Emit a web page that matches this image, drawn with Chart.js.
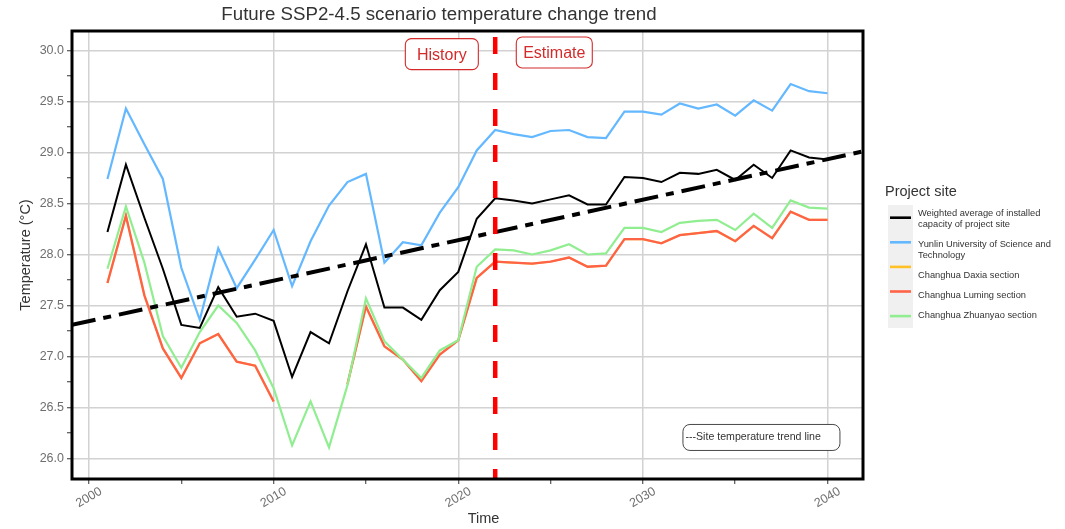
<!DOCTYPE html>
<html>
<head>
<meta charset="utf-8">
<title>Future SSP2-4.5 scenario temperature change trend</title>
<script src="https://cdn.jsdelivr.net/npm/chart.js@4.4.1/dist/chart.umd.min.js"></script>
<style>
  html, body { margin: 0; padding: 0; background: #ffffff; }
  #wrap { width: 1065px; height: 529px; position: relative; }
</style>
</head>
<body>
<div id="wrap"><canvas id="chart" width="1065" height="529"></canvas></div>
<script>
// ---- data ----
const years = [2001, 2002, 2003, 2004, 2005, 2006, 2007, 2008, 2009, 2010,
               2011, 2012, 2013, 2014, 2015, 2016, 2017, 2018, 2019, 2020,
               2021, 2022, 2023, 2024, 2025, 2026, 2027, 2028, 2029, 2030,
               2031, 2032, 2033, 2034, 2035, 2036, 2037, 2038, 2039, 2040];

const weighted = [28.22, 28.88, 28.36, 27.86, 27.31, 27.28, 27.68, 27.39, 27.42, 27.35,
                  26.80, 27.24, 27.13, 27.64, 28.10, 27.48, 27.48, 27.36, 27.65, 27.83,
                  28.35, 28.55, 28.53, 28.50, 28.54, 28.58, 28.49, 28.49, 28.76, 28.75,
                  28.71, 28.80, 28.79, 28.83, 28.73, 28.88, 28.75, 29.02, 28.95, 28.93];

const yunlin = [28.74, 29.43, 29.08, 28.74, 27.87, 27.36, 28.06, 27.67, 27.95, 28.24,
                27.69, 28.13, 28.48, 28.71, 28.79, 27.92, 28.12, 28.09, 28.41, 28.66,
                29.02, 29.22, 29.18, 29.15, 29.21, 29.22, 29.15, 29.14, 29.40, 29.40,
                29.37, 29.48, 29.43, 29.47, 29.36, 29.51, 29.41, 29.67, 29.60, 29.58];

const daxia = [27.72, 28.38, 27.60, 27.08, 26.79, 27.13, 27.22, 26.95, 26.91, 26.56,
               null, null, null, 26.73, 27.49, 27.10, 26.97, 26.76, 27.02, 27.16,
               27.77, 27.93, 27.92, 27.91, 27.93, 27.97, 27.88, 27.89, 28.15, 28.15,
               28.11, 28.19, 28.21, 28.23, 28.13, 28.28, 28.16, 28.42, 28.34, 28.34];

const luming = [27.72, 28.38, 27.60, 27.08, 26.79, 27.13, 27.22, 26.95, 26.91, 26.56,
                null, null, null, 26.73, 27.49, 27.10, 26.97, 26.76, 27.02, 27.16,
                27.77, 27.93, 27.92, 27.91, 27.93, 27.97, 27.88, 27.89, 28.15, 28.15,
                28.11, 28.19, 28.21, 28.23, 28.13, 28.28, 28.16, 28.42, 28.34, 28.34];

const zhuanyao = [27.86, 28.47, 27.92, 27.20, 26.89, 27.24, 27.50, 27.33, 27.06, 26.69,
                  26.13, 26.56, 26.11, 26.72, 27.57, 27.15, 26.97, 26.79, 27.06, 27.16,
                  27.88, 28.05, 28.04, 28.00, 28.04, 28.10, 28.00, 28.01, 28.26, 28.26,
                  28.22, 28.31, 28.33, 28.34, 28.24, 28.40, 28.26, 28.53, 28.46, 28.45];

// straight trend line across the whole time span
const trendYears = [1999.08, 2041.92];
const trendValues = [27.31, 29.01];

// year separating the historical record from the projection
const splitYear = 2022;

const seriesNames = [
  'Weighted average of installed capacity of project site',
  'Yunlin University of Science and Technology',
  'Changhua Daxia section',
  'Changhua Luming section',
  'Changhua Zhuanyao section'
];

const xTickLabels = [2000, 2010, 2020, 2030, 2040];
const yTickLabels = [26.0, 26.5, 27.0, 27.5, 28.0, 28.5, 29.0, 29.5, 30.0];

// ---- styling ----
const FONT = '"Liberation Sans", Arial, Helvetica, sans-serif';
const GRID = '#d2d2d2';
const seriesColors = ['#000000', '#63b8ff', '#ffc125', '#ff6347', '#90ee90'];
const seriesWidths = [2, 2.2, 2, 2.3, 2.2];

const toPoints = (xs, ys) => xs.map((x, i) => ({ x: x, y: ys[i] }));
const isMajor = (list, v) => list.some(t => Math.abs(t - v) < 1e-6);

const seriesValues = [weighted, yunlin, daxia, luming, zhuanyao];
// later series sit on top of earlier ones (lower order = drawn later)
const seriesOrder = [5, 4, 3, 2, 1];

const datasets = seriesValues.map((vals, i) => ({
  label: seriesNames[i],
  data: toPoints(years, vals),
  borderColor: seriesColors[i],
  backgroundColor: seriesColors[i],
  borderWidth: seriesWidths[i],
  pointRadius: 0,
  tension: 0,
  spanGaps: false,
  order: seriesOrder[i]
}));

datasets.push({
  label: 'trend',
  data: toPoints(trendYears, trendValues),
  borderColor: '#000000',
  borderWidth: 4,
  borderDash: [24, 8, 8, 8],
  pointRadius: 0,
  tension: 0,
  order: 0,
  isTrend: true
});

function roundRect(ctx, x, y, w, h, r) {
  ctx.beginPath();
  ctx.moveTo(x + r, y);
  ctx.lineTo(x + w - r, y);
  ctx.arcTo(x + w, y, x + w, y + r, r);
  ctx.lineTo(x + w, y + h - r);
  ctx.arcTo(x + w, y + h, x + w - r, y + h, r);
  ctx.lineTo(x + r, y + h);
  ctx.arcTo(x, y + h, x, y + h - r, r);
  ctx.lineTo(x, y + r);
  ctx.arcTo(x, y, x + r, y, r);
  ctx.closePath();
}

function wrapText(ctx, text, maxWidth) {
  const words = text.split(' ');
  const lines = [];
  let line = '';
  words.forEach(w => {
    const test = line ? line + ' ' + w : w;
    if (ctx.measureText(test).width > maxWidth && line) {
      lines.push(line);
      line = w;
    } else {
      line = test;
    }
  });
  if (line) lines.push(line);
  return lines;
}

const decor = {
  id: 'decor',
  beforeDraw(chart) {
    const ctx = chart.ctx;
    ctx.save();
    ctx.fillStyle = '#ffffff';
    ctx.fillRect(0, 0, chart.width, chart.height);
    ctx.restore();
  },
  afterDatasetsDraw(chart) {
    const ctx = chart.ctx;
    const a = chart.chartArea;
    const xs = chart.scales.x;

    // dashed divider between history and estimate
    const vx = xs.getPixelForValue(splitYear);
    ctx.save();
    ctx.strokeStyle = '#ff0000';
    ctx.lineWidth = 4.5;
    ctx.setLineDash([17, 19]);
    ctx.lineDashOffset = 30;
    ctx.beginPath();
    ctx.moveTo(vx, a.top);
    ctx.lineTo(vx, a.bottom);
    ctx.stroke();
    ctx.restore();

    // panel frame
    ctx.save();
    ctx.strokeStyle = '#000000';
    ctx.lineWidth = 3;
    ctx.strokeRect(a.left, a.top, a.right - a.left, a.bottom - a.top);
    ctx.restore();
  },
  afterDraw(chart) {
    const ctx = chart.ctx;
    const xs = chart.scales.x, ys = chart.scales.y;

    // title
    ctx.save();
    ctx.fillStyle = '#333333';
    ctx.font = '18.7px ' + FONT;
    ctx.textAlign = 'center';
    ctx.textBaseline = 'middle';
    ctx.fillText('Future SSP2-4.5 scenario temperature change trend', 439, 15);

    // x axis title
    ctx.font = '14.5px ' + FONT;
    ctx.fillText('Time', 483.5, 519);
    ctx.restore();

    // History / Estimate labels
    const tags = [
      { text: 'History', x: 2019.11, y: 29.963, w: 73, h: 31 },
      { text: 'Estimate', x: 2025.2, y: 29.98, w: 76, h: 31 }
    ];
    tags.forEach(t => {
      const cx = xs.getPixelForValue(t.x), cy = ys.getPixelForValue(t.y);
      ctx.save();
      roundRect(ctx, cx - t.w / 2, cy - t.h / 2, t.w, t.h, 6);
      ctx.fillStyle = '#ffffff';
      ctx.fill();
      ctx.strokeStyle = '#d42a2a';
      ctx.lineWidth = 1.1;
      ctx.stroke();
      ctx.fillStyle = '#d42a2a';
      ctx.font = '16px ' + FONT;
      ctx.textAlign = 'center';
      ctx.textBaseline = 'middle';
      ctx.fillText(t.text, cx, cy + 1);
      ctx.restore();
    });

    // trend line note
    {
      const cx = xs.getPixelForValue(2036.42), cy = ys.getPixelForValue(26.207);
      const w = 157, h = 26;
      ctx.save();
      roundRect(ctx, cx - w / 2, cy - h / 2, w, h, 7);
      ctx.fillStyle = '#ffffff';
      ctx.fill();
      ctx.strokeStyle = '#333333';
      ctx.lineWidth = 0.9;
      ctx.stroke();
      ctx.fillStyle = '#333333';
      ctx.font = '10.6px ' + FONT;
      ctx.textAlign = 'left';
      ctx.textBaseline = 'middle';
      ctx.fillText('---Site temperature trend line', cx - w / 2 + 2.5, cy);
      ctx.restore();
    }

    // legend
    ctx.save();
    ctx.fillStyle = '#333333';
    ctx.font = '14.5px ' + FONT;
    ctx.textAlign = 'left';
    ctx.textBaseline = 'middle';
    ctx.fillText('Project site', 885, 192);

    ctx.fillStyle = '#f0f0f0';
    ctx.fillRect(888, 205, 25, 123);

    ctx.font = '9.3px ' + FONT;
    const lineH = 11.3, blockGap = 8.5;
    let textY = 213.3;
    chart.data.datasets.forEach((ds, i) => {
      if (ds.isTrend) return;
      const keyY = 217.7 + i * 24.6;
      ctx.strokeStyle = ds.borderColor;
      ctx.lineWidth = 2.6;
      ctx.setLineDash([]);
      ctx.beginPath();
      ctx.moveTo(890, keyY);
      ctx.lineTo(911, keyY);
      ctx.stroke();

      const lines = wrapText(ctx, ds.label, 140);
      ctx.fillStyle = '#333333';
      lines.forEach((ln, k) => {
        ctx.fillText(ln, 918, textY + k * lineH);
      });
      textY += (lines.length - 1) * lineH + lineH + blockGap;
    });
    ctx.restore();
  }
};

const tickFont = { family: FONT, size: 12.5 };

new Chart(document.getElementById('chart'), {
  type: 'line',
  data: { datasets: datasets },
  options: {
    responsive: false,
    animation: false,
    devicePixelRatio: 1,
    layout: { padding: { top: 31, right: 202, bottom: 0, left: 0 } },
    plugins: {
      legend: { display: false },
      title: { display: false },
      tooltip: { enabled: false }
    },
    scales: {
      x: {
        type: 'linear',
        min: 1999.08,
        max: 2041.92,
        afterFit(scale) { scale.height = 50; },
        border: { display: false },
        grid: {
          color: ctx => isMajor(xTickLabels, ctx.tick.value) ? GRID : 'rgba(0,0,0,0)',
          lineWidth: 1.5,
          tickColor: '#333333',
          tickLength: 5,
          tickWidth: 1
        },
        ticks: {
          stepSize: 5,
          includeBounds: false,
          autoSkip: false,
          minRotation: 30,
          maxRotation: 30,
          labelOffset: 12,
          padding: 0,
          color: '#6e6e6e',
          font: tickFont,
          callback: v => isMajor(xTickLabels, v) ? String(Math.round(v)) : ''
        }
      },
      y: {
        type: 'linear',
        min: 25.8,
        max: 30.19,
        afterFit(scale) { scale.width = 72; },
        border: { display: false },
        title: {
          display: true,
          text: 'Temperature (°C)',
          color: '#333333',
          font: { family: FONT, size: 14.5 },
          padding: { top: 17, bottom: 0 }
        },
        grid: {
          color: ctx => isMajor(yTickLabels, ctx.tick.value) ? GRID : 'rgba(0,0,0,0)',
          lineWidth: 1.5,
          tickColor: '#333333',
          tickLength: 5,
          tickWidth: 1
        },
        ticks: {
          stepSize: 0.25,
          includeBounds: false,
          autoSkip: false,
          padding: 3,
          color: '#6e6e6e',
          font: tickFont,
          callback: v => isMajor(yTickLabels, v) ? v.toFixed(1) : ''
        }
      }
    }
  },
  plugins: [decor]
});
</script>
</body>
</html>
